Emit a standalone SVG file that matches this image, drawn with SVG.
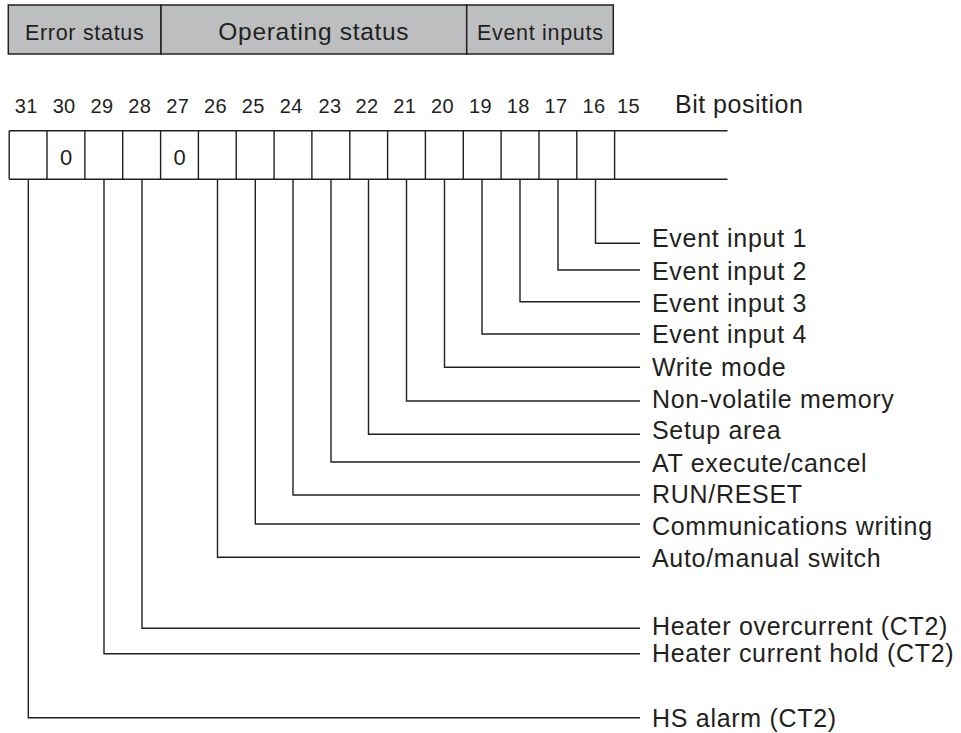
<svg xmlns="http://www.w3.org/2000/svg" width="961" height="733" viewBox="0 0 961 733">
<style>
  .ln{fill:none;stroke:#231f20;stroke-width:1.4}
  .hdr{fill:#bcbec0;stroke:#231f20;stroke-width:1.5}
  .t{font-family:"Liberation Sans",Arial,sans-serif;fill:#231f20}
  .hs{font-size:21.5px;letter-spacing:0.7px;text-anchor:middle}
  .hb{font-size:24.5px;letter-spacing:0.7px;text-anchor:middle}
  .num{font-size:20px;letter-spacing:0.3px;text-anchor:middle}
  .zero{font-size:22px;text-anchor:middle}
  .lab{font-size:25px;letter-spacing:0.7px}
</style>
<rect width="961" height="733" fill="#ffffff"/>
<g id="header">
  <g id="error-status"><rect class="hdr" x="8.3" y="5" width="152.7" height="49"/><text class="t hs" x="84.7" y="40">Error status</text></g>
  <g id="operating-status"><rect class="hdr" x="161" y="5" width="305.7" height="49"/><text class="t hb" x="313.8" y="40">Operating status</text></g>
  <g id="event-inputs"><rect class="hdr" x="466.7" y="5" width="146.6" height="49"/><text class="t hs" x="540.3" y="40">Event inputs</text></g>
</g>
<g id="bit-numbers" class="t num">
  <text x="26.3" y="112.5">31</text>
  <text x="64.1" y="112.5">30</text>
  <text x="102" y="112.5">29</text>
  <text x="139.8" y="112.5">28</text>
  <text x="177.7" y="112.5">27</text>
  <text x="215.5" y="112.5">26</text>
  <text x="253.3" y="112.5">25</text>
  <text x="291.2" y="112.5">24</text>
  <text x="330" y="112.5">23</text>
  <text x="367" y="112.5">22</text>
  <text x="404.7" y="112.5">21</text>
  <text x="442.5" y="112.5">20</text>
  <text x="480.4" y="112.5">19</text>
  <text x="518.2" y="112.5">18</text>
  <text x="556" y="112.5">17</text>
  <text x="593.9" y="112.5">16</text>
  <text x="628.5" y="112.5">15</text>
</g>
<text id="bit-position" class="t" x="675" y="113" style="font-size:25px;letter-spacing:0.5px">Bit position</text>
<g id="register">
  <path class="ln" d="M9.2 130.7H727.5M9.2 179.3H727.5M9.2 130.7V179.3M47 130.7V179.3M84.9 130.7V179.3M122.7 130.7V179.3M160.6 130.7V179.3M198.4 130.7V179.3M236.2 130.7V179.3M274.1 130.7V179.3M311.9 130.7V179.3M349.8 130.7V179.3M387.6 130.7V179.3M425.4 130.7V179.3M463.3 130.7V179.3M501.1 130.7V179.3M539 130.7V179.3M576.8 130.7V179.3M614.6 130.7V179.3"/>
  <text class="t zero" x="66" y="165">0</text>
  <text class="t zero" x="179.5" y="165">0</text>
</g>
<g id="connectors" class="ln">
  <path d="M595.5 179.3V243.3H640"/>
  <path d="M558 179.3V270H640"/>
  <path d="M520 179.3V301.7H640"/>
  <path d="M482 179.3V334H640"/>
  <path d="M444.5 179.3V367.3H640"/>
  <path d="M406.5 179.3V401H640"/>
  <path d="M368.5 179.3V434.3H640"/>
  <path d="M331 179.3V462H640"/>
  <path d="M293 179.3V495H640"/>
  <path d="M255.3 179.3V524H640"/>
  <path d="M217.5 179.3V557.3H640"/>
  <path d="M142 179.3V628.3H640"/>
  <path d="M104 179.3V653.7H640"/>
  <path d="M28.3 179.3V717.7H640"/>
</g>
<g id="labels" class="t lab">
  <g id="bit16"><text x="652" y="247">Event input 1</text></g>
  <g id="bit17"><text x="652" y="280">Event input 2</text></g>
  <g id="bit18"><text x="652" y="311.7">Event input 3</text></g>
  <g id="bit19"><text x="652" y="343.3">Event input 4</text></g>
  <g id="bit20"><text x="652" y="375.7">Write mode</text></g>
  <g id="bit21"><text x="652" y="408.3">Non-volatile memory</text></g>
  <g id="bit22"><text x="652" y="439.3">Setup area</text></g>
  <g id="bit23"><text x="652" y="471.7">AT execute/cancel</text></g>
  <g id="bit24"><text x="652" y="503.3">RUN/RESET</text></g>
  <g id="bit25"><text x="652" y="535">Communications writing</text></g>
  <g id="bit26"><text x="652" y="566.7">Auto/manual switch</text></g>
  <g id="bit28"><text x="652" y="635">Heater overcurrent (CT2)</text></g>
  <g id="bit29"><text x="652" y="661.7">Heater current hold (CT2)</text></g>
  <g id="bit31"><text x="652" y="726.7">HS alarm (CT2)</text></g>
</g>
</svg>
